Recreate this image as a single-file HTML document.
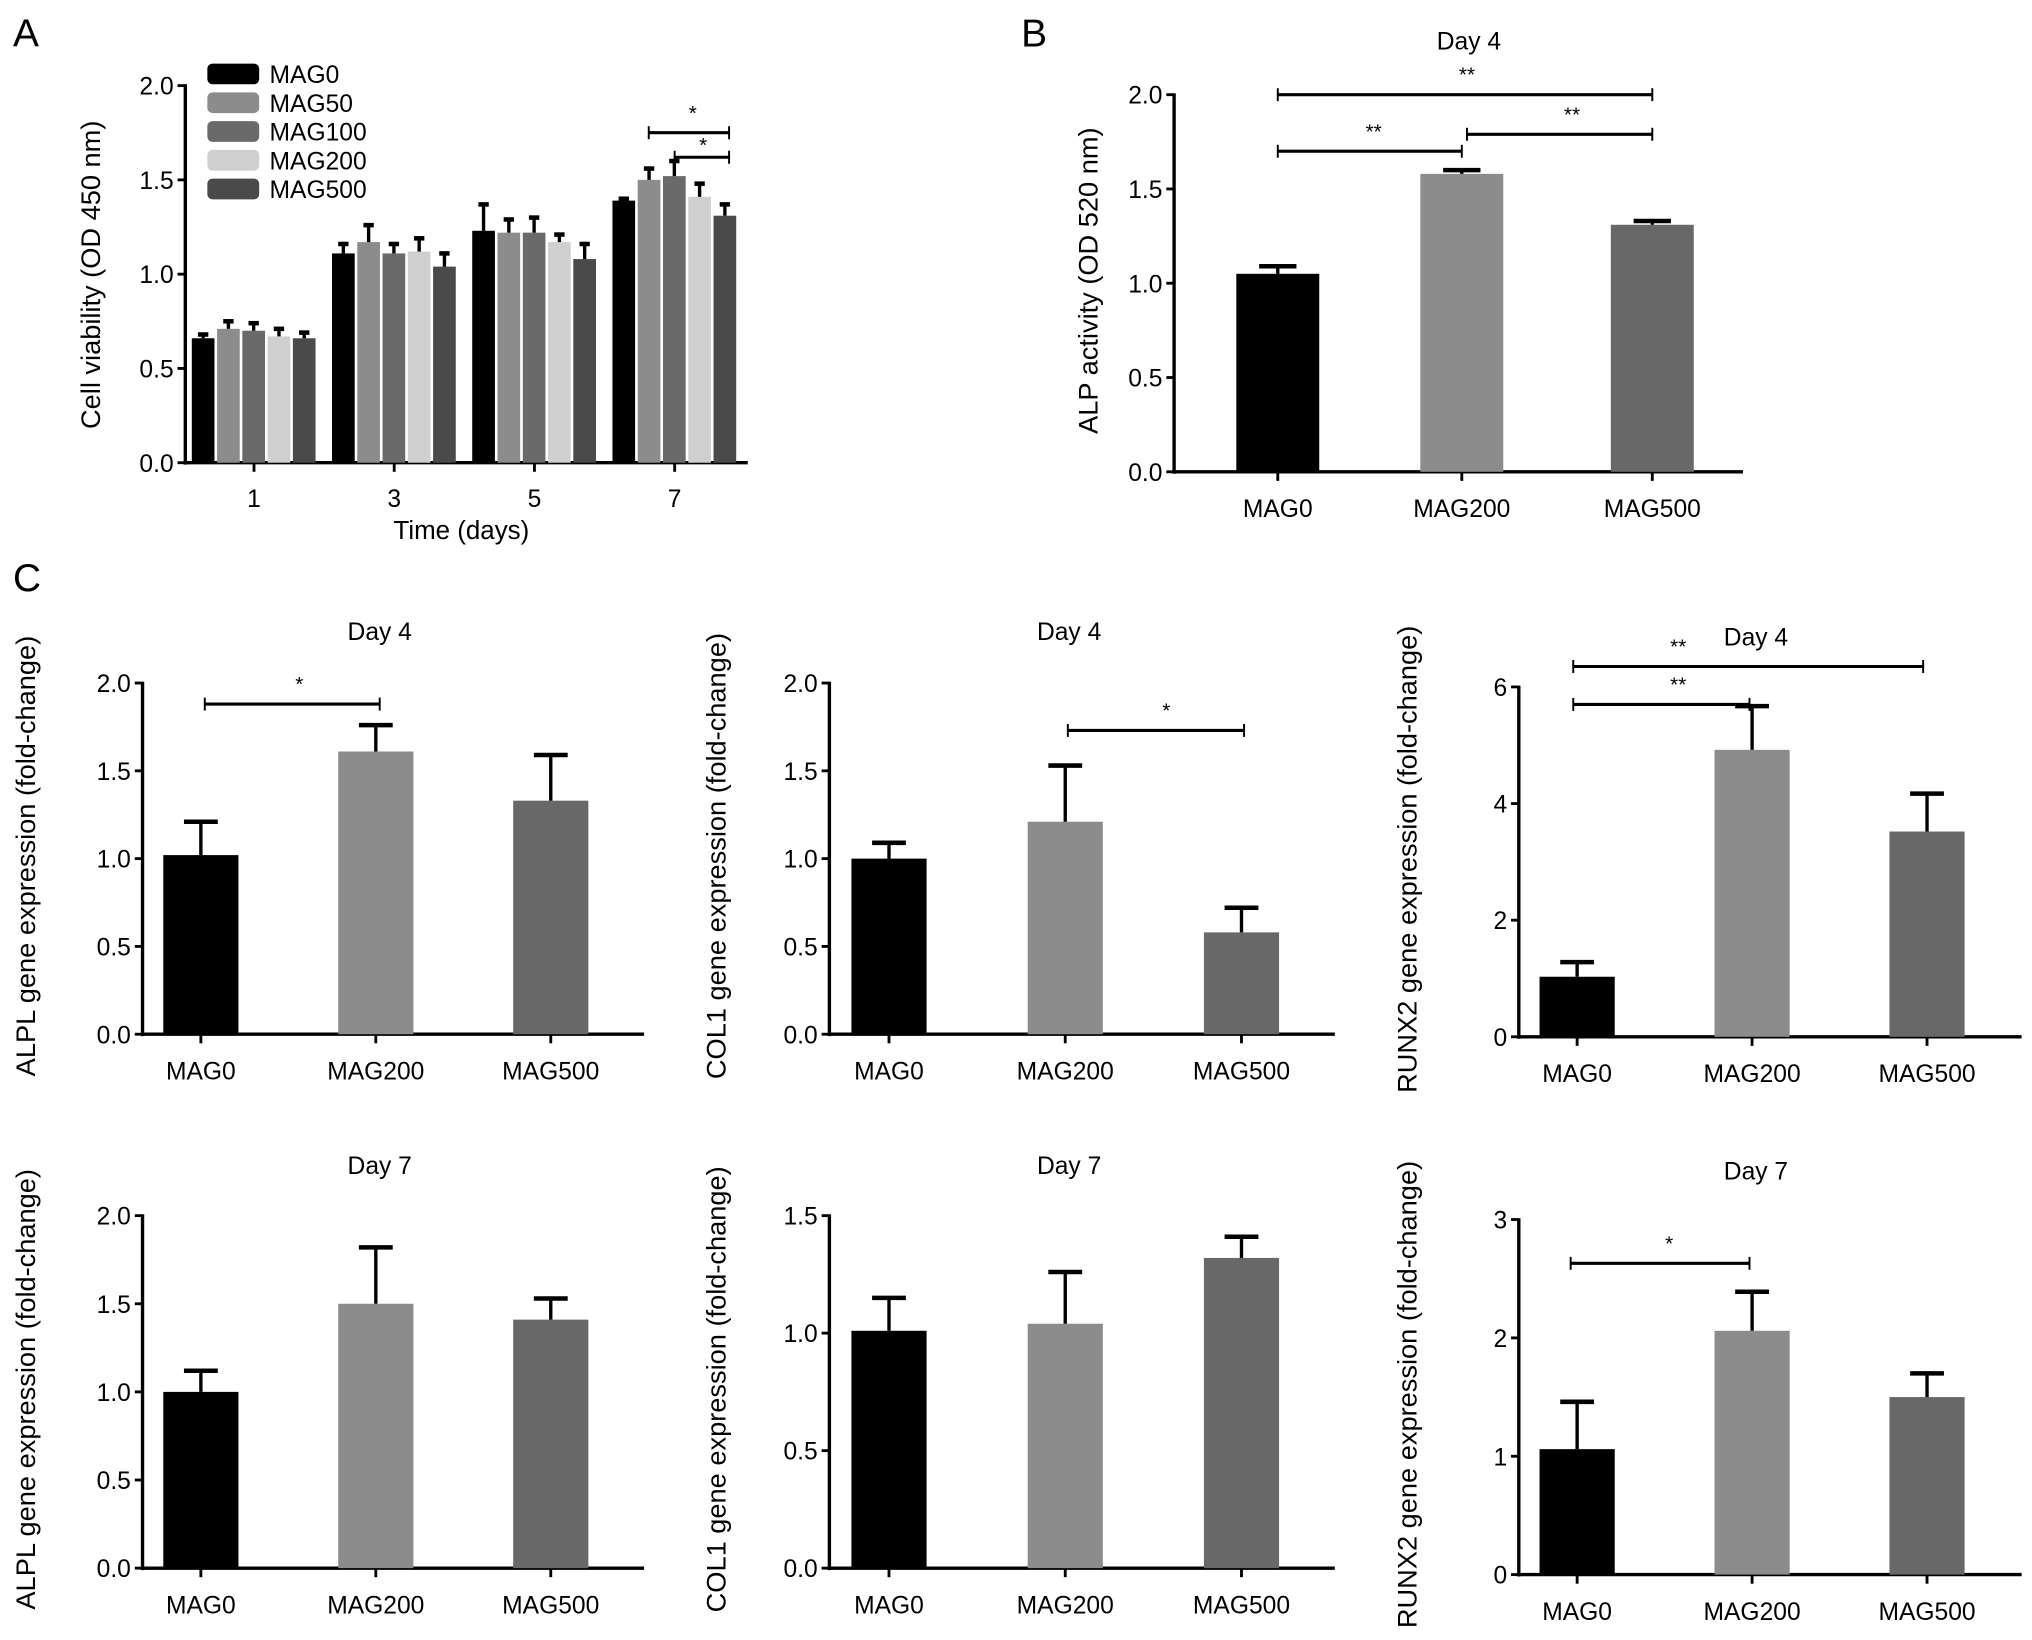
<!DOCTYPE html>
<html><head><meta charset="utf-8"><style>
html,body{margin:0;padding:0;background:#fff;}
svg{display:block;font-family:"Liberation Sans",Arial,sans-serif;}
</style></head><body>
<svg id="fig" width="2032" height="1640" viewBox="0 0 1568 1265.4" xmlns="http://www.w3.org/2000/svg">
<rect width="1568" height="1265.4" fill="#fff"/>
<text x="10" y="36" font-size="30">A</text>
<text x="788" y="36" font-size="30">B</text>
<text x="10" y="456" font-size="30">C</text>
</svg>
<script>
// Panel A data
const aDays = ["1","3","5","7"];
const aSeries = ["MAG0","MAG50","MAG100","MAG200","MAG500"];
const aMAG0 = [0.66,1.11,1.23,1.39];
const aMAG50 = [0.71,1.17,1.22,1.50];
const aMAG100 = [0.70,1.11,1.22,1.52];
const aMAG200 = [0.67,1.12,1.17,1.41];
const aMAG500 = [0.66,1.04,1.08,1.31];
const aErr0 = [0.02,0.05,0.14,0.01];
const aErr50 = [0.04,0.09,0.07,0.06];
const aErr100 = [0.04,0.05,0.08,0.08];
const aErr200 = [0.04,0.07,0.04,0.07];
const aErr500 = [0.03,0.07,0.08,0.06];
const aTicks = ["0.0","0.5","1.0","1.5","2.0"];
// Panel B data
const groups = ["MAG0","MAG200","MAG500"];
const bVals = [1.05,1.58,1.31];
const bErr = [0.04,0.02,0.02];
// Panel C data
const alpl4 = [1.02,1.61,1.33]; const alpl4Err = [0.19,0.15,0.26];
const col14 = [1.00,1.21,0.58]; const col14Err = [0.09,0.32,0.14];
const runx4 = [1.03,4.92,3.52]; const runx4Err = [0.25,0.75,0.65];
const alpl7 = [1.00,1.50,1.41]; const alpl7Err = [0.12,0.32,0.12];
const col17 = [1.01,1.04,1.32]; const col17Err = [0.14,0.22,0.09];
const runx7 = [1.06,2.06,1.50]; const runx7Err = [0.40,0.33,0.20];
const ticks2 = ["0.0","0.5","1.0","1.5","2.0"];
const ticks15 = ["0.0","0.5","1.0","1.5"];
const ticks6 = ["0","2","4","6"];
const ticks3 = ["0","1","2","3"];

const NS="http://www.w3.org/2000/svg";
const svg=document.getElementById('fig');
function mk(tag,attrs,parent){const e=document.createElementNS(NS,tag);for(const k in attrs)e.setAttribute(k,attrs[k]);(parent||svg).appendChild(e);return e;}
function txt(x,y,s,size,anchor,parent,rot){const t=mk('text',{x:x,y:y,'font-size':size,'text-anchor':anchor||'middle'},parent);if(rot)t.setAttribute('transform','rotate(-90 '+x+' '+y+')');t.textContent=s;return t;}

function axes(g,ax,y0,y1,xr,tickLabels,ymax){
  const sy=v=>y0-(v/ymax)*(y0-y1);
  mk('line',{x1:ax,y1:y1-1,x2:ax,y2:y0+1.5,stroke:'#000','stroke-width':2.6},g);
  mk('line',{x1:ax-1,y1:y0,x2:xr,y2:y0,stroke:'#000','stroke-width':2.6},g);
  tickLabels.forEach(l=>{const v=parseFloat(l);const y=sy(v);
    mk('line',{x1:ax-6,y1:y,x2:ax,y2:y,stroke:'#000','stroke-width':2.2},g);
    const t=txt(ax-9,y+7,l,19,'end',g);});
  return sy;
}
function errbar(g,cx,top,errTop,w){
  mk('line',{x1:cx,y1:top,x2:cx,y2:errTop,stroke:'#000','stroke-width':2.6},g);
  mk('line',{x1:cx-w/2,y1:errTop,x2:cx+w/2,y2:errTop,stroke:'#000','stroke-width':3.5},g);
}
function bracket(g,x1,x2,y,star,sx,sdy){
  const b=mk('line',{x1:x1,y1:y,x2:x2,y2:y,stroke:'#000','stroke-width':2.4},g);
  
  mk('line',{x1:x1,y1:y-5,x2:x1,y2:y+5,stroke:'#000','stroke-width':1.5},g);
  mk('line',{x1:x2,y1:y-5,x2:x2,y2:y+5,stroke:'#000','stroke-width':1.5},g);
  const t=txt(sx,y-(sdy||10),star,16,'middle',g);
  return t;
}

// Panel A
(function(){
  const g=mk('g',{});
  
  
  const ax=143,y0=357,y1=66,xr=577;
  const sy=axes(g,ax,y0,y1,xr,aTicks,2.0);
  const vals=[aMAG0,aMAG50,aMAG100,aMAG200,aMAG500];
  const errs=[aErr0,aErr50,aErr100,aErr200,aErr500];
  const cols=['#000','#8c8c8c','#6a6a6a','#cfcfcf','#4a4a4a'];
  const gx=i=>196+i*108.2;
  aDays.forEach((d,i)=>{
    const cx=gx(i);
    mk('line',{x1:cx,y1:y0,x2:cx,y2:y0+7,stroke:'#000','stroke-width':2.2},g);
    const t=txt(cx,y0+34,d,19,'middle',g);
    aSeries.forEach((s,j)=>{
      const bx=cx-48+j*19.5, w=17.5;
      const top=sy(vals[j][i]);
      const r=mk('rect',{x:bx,y:top,width:w,height:y0-top,fill:cols[j]},g);
      
      
      errbar(g,bx+w/2,top,sy(vals[j][i]+errs[j][i]),8);
    });
  });
  const xt=txt(356,416,'Time (days)',20,'middle',g);
  const yt=txt(77,212,'Cell viability (OD 450 nm)',21,'middle',g,true);
  aSeries.forEach((s,j)=>{
    const y=57+j*22.2;
    const r=mk('rect',{x:160,y:y-8,width:40,height:16,rx:4,fill:cols[j]},g);
    
    const t=txt(208,y+7,s,19,'start',g);
  });
  bracket(g,gx(3)-20,gx(3)+42,sy(1.75),'*',gx(3)+14);
  const s2=bracket(g,gx(3)+0,gx(3)+42,sy(1.62),'*',gx(3)+22,4);
  s2.setAttribute('paint-order','stroke');
  s2.setAttribute('stroke','#fff');
  s2.setAttribute('stroke-width','3');
})();

function simple(name,ax,y0,y1,xr,ticks,ymax,vals,errs,centers,bw,title,titleY,ylabel,ylx){
  const g=mk('g',{});
  
  
  const sy=axes(g,ax,y0,y1,xr,ticks,ymax);
  const cols=['#000','#8c8c8c','#686868'];
  groups.forEach((c,i)=>{
    const cx=centers[i];
    mk('line',{x1:cx,y1:y0,x2:cx,y2:y0+7,stroke:'#000','stroke-width':2.2},g);
    const t=txt(cx,y0+35,c,19,'middle',g);
    const top=sy(vals[i]);
    const r=mk('rect',{x:cx-bw/2,y:top,width:bw,height:y0-top,fill:cols[i]},g);
    
    
    errbar(g,cx,top,sy(vals[i]+errs[i]),bw*0.45);
  });
  const tt=txt((centers[0]+centers[2])/2+3,titleY,title,19,'middle',g);
  const yt=txt(ylx,(y0+y1)/2-2,ylabel,21,'middle',g,true);
  return {g,sy};
}

// Panel B
(function(){
  const p=simple('panel-b-alp-activity-chart',906,364,73,1345,aTicks,2.0,bVals,bErr,[986,1128,1275],64,'Day 4',38,'ALP activity (OD 520 nm)',847);
  bracket(p.g,986,1275,p.sy(2.0),'**',1132);
  bracket(p.g,986,1128,p.sy(1.7),'**',1060);
  bracket(p.g,1132,1275,p.sy(1.79),'**',1213);
})();

// Panel C
const c1=[155,290,425], c2=[686,822,958], c3=[1217,1352,1487];
(function(){
  let p=simple('alpl-day4-chart',110,798,527,497,ticks2,2.0,alpl4,alpl4Err,c1,58,'Day 4',494,'ALPL gene expression (fold-change)',27);
  bracket(p.g,158,293,p.sy(1.88),'*',231);
  p=simple('col1-day4-chart',640,798,527,1030,ticks2,2.0,col14,col14Err,c2,58,'Day 4',494,'COL1 gene expression (fold-change)',560);
  bracket(p.g,824,960,p.sy(1.73),'*',900);
  p=simple('runx2-day4-chart',1172,800,530,1560,ticks6,6,runx4,runx4Err,c3,58,'Day 4',498,'RUNX2 gene expression (fold-change)',1093);
  bracket(p.g,1214,1484,p.sy(6.35),'**',1295);
  bracket(p.g,1214,1350,p.sy(5.7),'**',1295);
  simple('alpl-day7-chart',110,1210,938,497,ticks2,2.0,alpl7,alpl7Err,c1,58,'Day 7',906,'ALPL gene expression (fold-change)',27);
  simple('col1-day7-chart',640,1210,938,1030,ticks15,1.5,col17,col17Err,c2,58,'Day 7',906,'COL1 gene expression (fold-change)',560);
  p=simple('runx2-day7-chart',1172,1215,941,1560,ticks3,3,runx7,runx7Err,c3,58,'Day 7',910,'RUNX2 gene expression (fold-change)',1093);
  bracket(p.g,1212,1350,p.sy(2.63),'*',1288);
})();
</script>
</body></html>
